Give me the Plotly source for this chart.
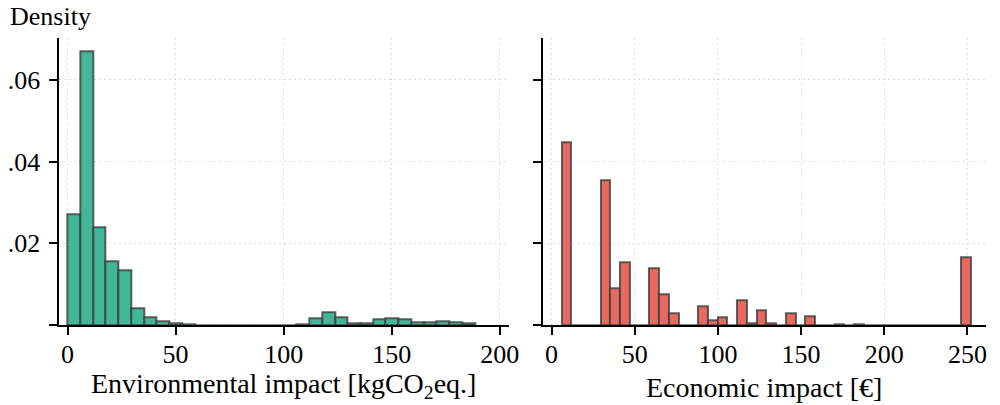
import numpy as np
import plotly.graph_objects as go

# ---- data (histogram densities) ----
env_bin_start = 0.0
env_bin_width = 5.89
env_density = [0.0270, 0.0669, 0.0239, 0.0155, 0.0135, 0.0042, 0.0018, 0.0010,
               0.0004, 0.0002, 0, 0, 0, 0, 0, 0, 0, 0,
               0.0002, 0.0017, 0.0031, 0.0020, 0.0004, 0.0004, 0.0015, 0.0017,
               0.0013, 0.0006, 0.0006, 0.0009, 0.0007, 0.0003]

eco_bin_start = 6.0
eco_bin_width = 5.86
eco_density = [0.0448, 0, 0, 0, 0.0354, 0.0090, 0.0154, 0, 0, 0.0140,
               0.0074, 0.0029, 0, 0, 0.0047, 0.0011, 0.0020, 0, 0.0060, 0.0005,
               0.0036, 0.0005, 0, 0.0028, 0, 0.0021, 0, 0, 0.0002, 0,
               0.0002, 0, 0, 0, 0, 0, 0, 0, 0, 0,
               0, 0.0166]

y_ticks = [0, 0.02, 0.04, 0.06]
y_ticktext = ["", ".02", ".04", ".06"]
env_xticks = [0, 50, 100, 150, 200]
eco_xticks = [0, 50, 100, 150, 200, 250]

env_centers = env_bin_start + env_bin_width * (np.arange(len(env_density)) + 0.5)
eco_centers = eco_bin_start + eco_bin_width * (np.arange(len(eco_density)) + 0.5)

FONT = "Liberation Serif, Times New Roman, serif"
FS = 26
edge = dict(color="rgba(60,60,60,0.8)", width=2)

fig = go.Figure()
fig.add_trace(go.Bar(x=env_centers, y=env_density, width=env_bin_width,
                     marker=dict(color="#41B797", line=edge),
                     xaxis="x", yaxis="y", showlegend=False))
fig.add_trace(go.Bar(x=eco_centers, y=eco_density, width=eco_bin_width,
                     marker=dict(color="#E8695F", line=edge),
                     xaxis="x2", yaxis="y2", showlegend=False))

axis_common = dict(showline=True, linecolor="black", linewidth=2,
                   ticks="outside", ticklen=8, tickwidth=2, tickcolor="black",
                   showgrid=True, gridcolor="#dedede", gridwidth=1.2, griddash="2px,3px",
                   zeroline=False, tickfont=dict(family=FONT, size=FS, color="black"))

ydom = [0.1975, 0.9054]
fig.update_layout(
    width=1000, height=405,
    margin=dict(l=0, r=0, t=0, b=0),
    paper_bgcolor="white", plot_bgcolor="white",
    bargap=0,
    xaxis=dict(domain=[0.060, 0.5143], range=[-3.8, 204.1],
               tickvals=env_xticks, ticklabelstandoff=-3, anchor="y", **axis_common),
    yaxis=dict(domain=ydom, range=[0, 0.0702], tickvals=y_ticks, ticktext=y_ticktext,
               ticklabelstandoff=4, anchor="x", **axis_common),
    xaxis2=dict(domain=[0.549, 0.997], range=[-5.2, 261.2],
                tickvals=eco_xticks, ticklabelstandoff=-3, anchor="y2", **axis_common),
    yaxis2=dict(domain=ydom, range=[0, 0.0702], tickvals=y_ticks, matches="y",
                showticklabels=False, anchor="x2", **axis_common),
    font=dict(family=FONT, size=FS, color="black"),
)

fig.add_annotation(text="Density", xref="paper", yref="paper", x=0.008, y=1.0,
                   xanchor="left", yanchor="top", showarrow=False,
                   font=dict(family=FONT, size=FS, color="black"))
fig.add_annotation(text="Environmental impact [kgCO<sub>2</sub>eq.]", xref="paper", yref="paper",
                   x=(0.060 + 0.5143) / 2, y=0.0, xanchor="center", yanchor="bottom",
                   showarrow=False, font=dict(family=FONT, size=28, color="black"))
fig.add_annotation(text="Economic impact [€]", xref="paper", yref="paper",
                   x=(0.549 + 0.997) / 2, y=0.0, xanchor="center", yanchor="bottom",
                   showarrow=False, font=dict(family=FONT, size=28, color="black"))

fig.write_html("out.html")
